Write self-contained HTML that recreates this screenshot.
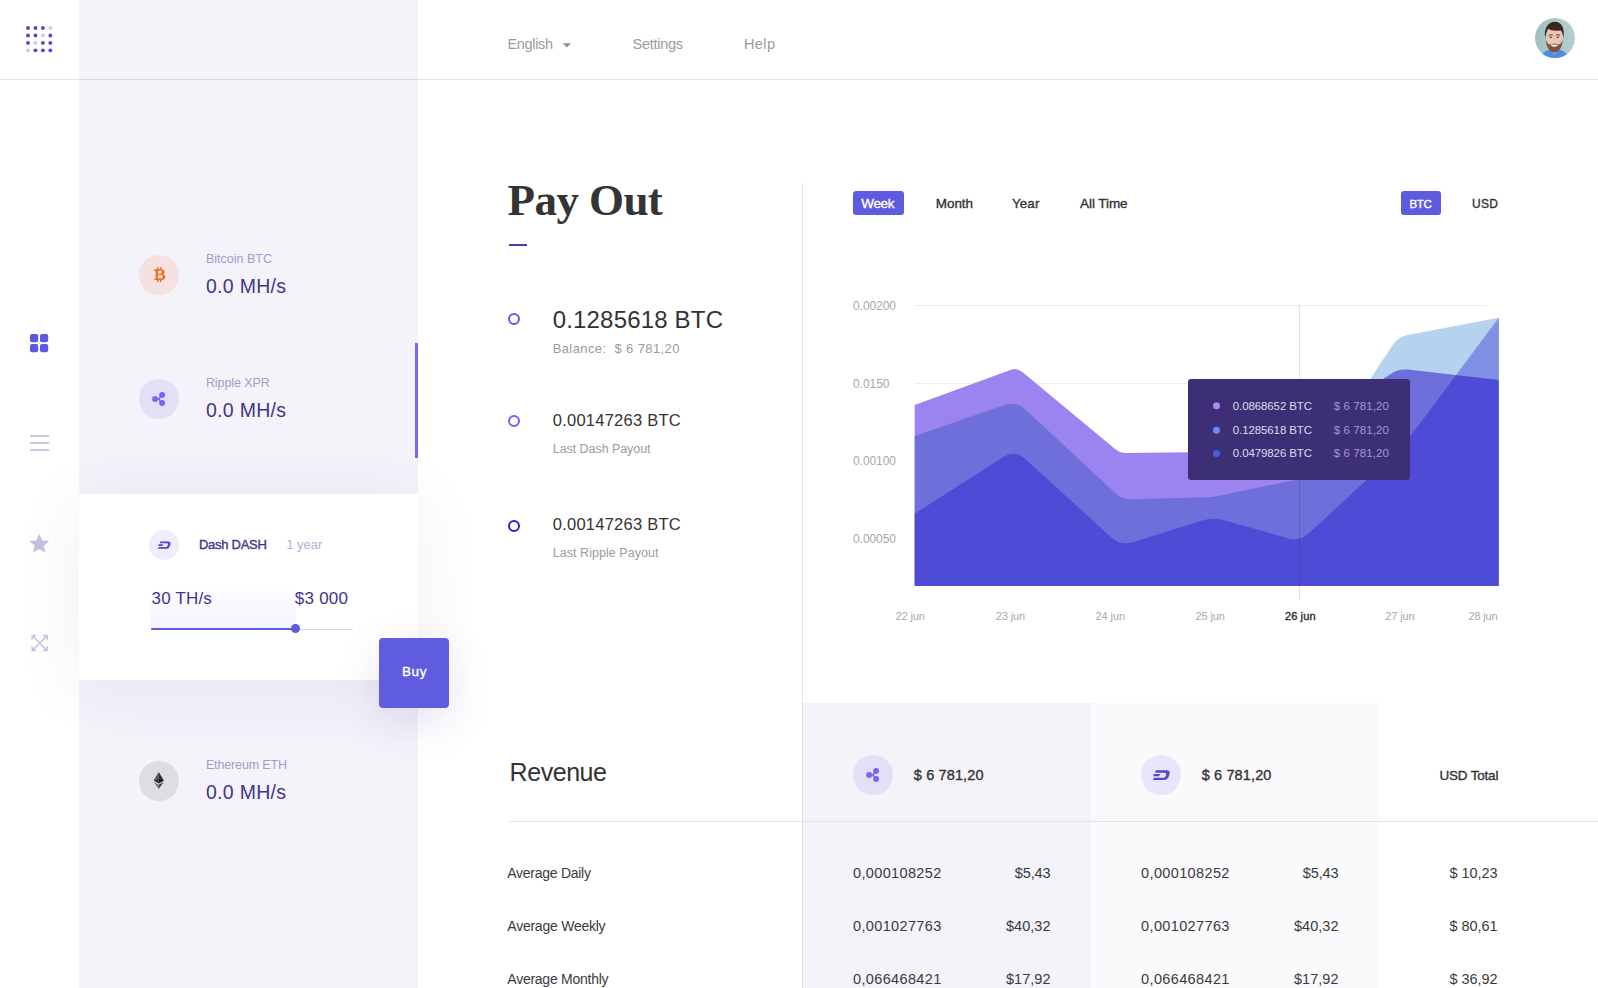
<!DOCTYPE html>
<html lang="en"><head><meta charset="utf-8"><title>Pay Out</title>
<style>
*{box-sizing:border-box;margin:0;padding:0}
html,body{width:1598px;height:988px;overflow:hidden;background:#fff}
body{position:relative;font-family:'Liberation Sans',sans-serif;color:#333}
.a{position:absolute}
.g{position:absolute;left:0;top:0;width:0;height:0}
.t{position:absolute;white-space:pre;line-height:1}
.sidebar{left:79px;top:0;width:339px;height:988px;background:#f4f3fa}
.hline{left:0;top:79px;width:1598px;height:1px;background:rgba(70,60,130,.15)}
.card{left:79px;top:494px;width:339px;height:186px;background:#fff;box-shadow:0 8px 70px rgba(60,50,140,.075)}
.buy{left:379px;top:638px;width:70px;height:70px;background:#5f5cdf;border-radius:4px;box-shadow:0 14px 44px rgba(60,50,160,.13)}
.ic{border-radius:50%}
.pill{background:#5f5bdf;border-radius:3px}
.ring{width:12px;height:12px;border-radius:50%;border:2px solid #5c5ce8;left:508px}
.col1{left:803px;top:703px;width:288px;height:285px;background:#f4f3fa}
.col2{left:1091px;top:703px;width:288px;height:285px;background:#fafafd}
</style></head>
<body>
<aside class="g">
<div class="a sidebar"></div>
<div class="a ic" style="left:139px;top:255px;width:40px;height:40px;background:#f5e1df"></div>
<svg class="a" style="left:139px;top:255px" width="40" height="40" viewBox="0 0 40 40"><g fill="#f26522" transform="translate(0,1) scale(1,0.92)">
<path d="M15.2,14.4 h6.4 c2.6,0 4.0,1.2 4.0,3.0 c0,1.3 -0.7,2.1 -1.8,2.5 c1.5,0.4 2.4,1.4 2.4,2.9 c0,2.1 -1.6,3.3 -4.4,3.3 h-6.6 v-1.5 h1.5 v-8.7 h-1.5z M18.9,16.0 v3.2 h2.3 c1.2,0 1.9,-0.6 1.9,-1.6 c0,-1.0 -0.7,-1.6 -1.9,-1.6z M18.9,20.7 v3.8 h2.6 c1.4,0 2.2,-0.7 2.2,-1.9 c0,-1.2 -0.8,-1.9 -2.2,-1.9z"/>
<rect x="18.1" y="12.1" width="1.4" height="2.6"/><rect x="21.0" y="12.1" width="1.4" height="2.6"/><rect x="18.1" y="25.8" width="1.4" height="2.6"/><rect x="21.0" y="25.8" width="1.4" height="2.6"/></g></svg>
<div class="a ic" style="left:139px;top:379px;width:40px;height:40px;background:#e3dff7"></div>
<svg class="a" style="left:139px;top:379px" width="40" height="40" viewBox="0 0 40 40"><g fill="#7b64ee" stroke="#7b64ee"><path d="M16.1,20 L19.8,20 L23.1,16.1 M19.8,20 L23.1,23.9" fill="none" stroke-width="1.6"/><circle cx="23.1" cy="16" r="2.95" stroke="none"/><circle cx="16.1" cy="20.05" r="2.95" stroke="none"/><circle cx="23.1" cy="24" r="2.95" stroke="none"/></g></svg>
<div class="a" style="left:415px;top:343px;width:3px;height:115px;background:#7b64ee"></div>
<div class="a card"></div>
<div class="a" style="left:151px;top:584px;width:145px;height:44px;background:linear-gradient(180deg,rgba(240,242,255,0) 0%,rgba(236,238,255,.7) 100%)"></div>
<div class="a ic" style="left:149px;top:530px;width:30px;height:30px;background:#efecfc"></div>
<svg class="a" style="left:149px;top:530px" width="30" height="30" viewBox="0 0 30 30"><g fill="#5248d8"><path d="M11.2,11.5 h7.9 c2.0,0 2.9,1.1 2.3,2.9 l-0.6,1.8 c-0.6,1.7 -1.8,2.6 -3.6,2.6 h-8.2 l0.6,-1.8 h7.2 c0.9,0 1.4,-0.4 1.7,-1.2 l0.3,-1.0 c0.3,-0.9 -0.1,-1.5 -1.0,-1.5 h-7.2z"/><path d="M9.6,14.3 h4.6 l-0.55,1.7 h-4.6z"/></g></svg>
<div class="a" style="left:151px;top:628.5px;width:202px;height:1px;background:#d9d6ef"></div>
<div class="a" style="left:151px;top:627.6px;width:145px;height:2.4px;background:#5d5adb;border-radius:1px"></div>
<div class="a ic" style="left:291px;top:624.2px;width:9px;height:9px;background:#5d5adb"></div>
<div class="a buy"></div>
<div class="a ic" style="left:139px;top:761px;width:40px;height:40px;background:#dedde4"></div>
<svg class="a" style="left:139px;top:761px" width="40" height="40" viewBox="0 0 40 40">
<path d="M19.7,11.1 L14.6,19.6 L19.7,17.3z" fill="#555"/><path d="M19.7,11.1 L24.9,19.6 L19.7,17.3z" fill="#2a2a2a"/>
<path d="M19.7,17.3 L14.6,19.6 L19.7,22.6z" fill="#333"/><path d="M19.7,17.3 L24.9,19.6 L19.7,22.6z" fill="#111"/>
<path d="M14.6,20.8 L19.7,23.8 L19.7,27.9z" fill="#777"/><path d="M24.9,20.8 L19.7,23.8 L19.7,27.9z" fill="#444"/></svg>
<span class="t" style="left:205.9px;top:253px;font-size:12.5px;letter-spacing:0.01px;color:#a39acd;">Bitcoin BTC</span>
<span class="t" style="left:206.0px;top:277px;font-size:19.5px;letter-spacing:0.28px;color:#42358a;">0.0 MH/s</span>
<span class="t" style="left:205.9px;top:377px;font-size:12.5px;letter-spacing:-0.09px;color:#a39acd;">Ripple XPR</span>
<span class="t" style="left:206.0px;top:401px;font-size:19.5px;letter-spacing:0.28px;color:#42358a;">0.0 MH/s</span>
<span class="t" style="left:199.0px;top:538px;font-size:13px;letter-spacing:-0.28px;color:#42358a;-webkit-text-stroke:0.35px #42358a;">Dash DASH</span>
<span class="t" style="left:286.3px;top:538px;font-size:13px;letter-spacing:-0.01px;color:#b5aed6;">1 year</span>
<span class="t" style="left:151.6px;top:590px;font-size:17px;letter-spacing:0.16px;color:#42358a;">30 TH/s</span>
<span class="t" style="left:294.8px;top:590px;font-size:17px;letter-spacing:0.24px;color:#42358a;">$3 000</span>
<span class="t" style="left:402.0px;top:665px;font-size:13.5px;letter-spacing:0.62px;color:#ffffff;-webkit-text-stroke:0.35px #ffffff;">Buy</span>
<span class="t" style="left:205.9px;top:759px;font-size:12.5px;letter-spacing:-0.14px;color:#a39acd;">Ethereum ETH</span>
<span class="t" style="left:206.0px;top:783px;font-size:19.5px;letter-spacing:0.28px;color:#42358a;">0.0 MH/s</span>
</aside>
<header class="g">
<div class="a hline"></div>
<svg class="a" style="left:1535px;top:18px" width="40" height="40" viewBox="0 0 40 40"><defs><clipPath id="av"><circle cx="20" cy="20" r="20"/></clipPath>
<linearGradient id="avb" x1="0" y1="0" x2="1" y2="0"><stop offset="0" stop-color="#a3c1c2"/><stop offset="1" stop-color="#b4cfcd"/></linearGradient></defs>
<g clip-path="url(#av)"><rect width="40" height="40" fill="url(#avb)"/>
<path d="M5,40 C7,34.5 11,32.6 15,31.6 L19.3,36 L23.6,31.6 C28,32.6 32,34.5 34,40z" fill="#4d8fe3"/>
<path d="M15,30 L15,32 L19.3,36.6 L23.6,32 L23.6,30z" fill="#d8a68e"/>
<ellipse cx="19.3" cy="20.6" rx="8.5" ry="11.3" fill="#ecc6b2"/>
<path d="M10.9,21.5 C11.2,29.5 14.8,34.6 19.3,34.6 C23.8,34.6 27.4,29.5 27.7,21.5 C26.6,25.6 24.4,26.8 23.2,26.4 C21.5,25.4 17.1,25.4 15.4,26.4 C14.2,26.8 12,25.6 10.9,21.5z" fill="#7a5646"/>
<path d="M15.6,27.0 C17,29.2 21.6,29.2 23.0,27.0 C21.5,26.6 17.1,26.6 15.6,27.0z" fill="#fff"/>
<ellipse cx="15.8" cy="19.3" rx="1.3" ry="0.8" fill="#4a3a36"/><ellipse cx="22.8" cy="19.3" rx="1.3" ry="0.8" fill="#4a3a36"/>
<path d="M13.6,17.4 q2.2,-1.2 4.2,-0.2 M20.8,17.2 q2,-1 4.2,0.2" stroke="#4a3328" stroke-width="0.9" fill="none"/>
<path d="M10.2,20.5 C8.6,10.5 13,3.8 19.8,3.8 C26.6,3.8 30,10 28.4,20.5 C28,16.5 27.2,13.6 25.6,12.2 C21,13.4 15.4,12.4 13.2,10.8 C11.6,13.2 10.8,16.5 10.2,20.5z" fill="#3b271e"/>
</g></svg>
<svg class="a" style="left:562px;top:42px" width="10" height="7" viewBox="0 0 10 7"><path d="M0.8,1.2 h8.2 l-4.1,4.4z" fill="#8f8f8f"/></svg>
<span class="t" style="left:507.5px;top:37px;font-size:14.5px;letter-spacing:-0.34px;color:#9b9b9b;">English</span>
<span class="t" style="left:632.5px;top:37px;font-size:14.5px;letter-spacing:-0.27px;color:#9b9b9b;">Settings</span>
<span class="t" style="left:744.0px;top:37px;font-size:14.5px;letter-spacing:0.39px;color:#9b9b9b;">Help</span>
</header>
<nav class="g">
<svg class="a" style="left:0;top:0" width="79" height="79" viewBox="0 0 79 79"><circle cx="28" cy="28" r="1.95" fill="#4d49d8"/><circle cx="35.45" cy="28" r="1.95" fill="#4d49d8"/><circle cx="42.9" cy="28" r="1.95" fill="#4d49d8"/><circle cx="50.35" cy="28" r="1.95" fill="#cbc9f4"/><circle cx="28" cy="35.45" r="1.95" fill="#4d49d8"/><circle cx="35.45" cy="35.45" r="1.95" fill="#4d49d8"/><circle cx="42.9" cy="35.45" r="1.95" fill="#cbc9f4"/><circle cx="50.35" cy="35.45" r="1.95" fill="#4d49d8"/><circle cx="28" cy="42.9" r="1.95" fill="#4d49d8"/><circle cx="35.45" cy="42.9" r="1.95" fill="#cbc9f4"/><circle cx="42.9" cy="42.9" r="1.95" fill="#4d49d8"/><circle cx="50.35" cy="42.9" r="1.95" fill="#4d49d8"/><circle cx="28" cy="50.35" r="1.95" fill="#cbc9f4"/><circle cx="35.45" cy="50.35" r="1.95" fill="#4d49d8"/><circle cx="42.9" cy="50.35" r="1.95" fill="#4d49d8"/><circle cx="50.35" cy="50.35" r="1.95" fill="#4d49d8"/></svg>
<svg class="a" style="left:20px;top:320px" width="40" height="350" viewBox="20 320 40 350">
<g fill="#5b59de"><rect x="30" y="334" width="8.2" height="8.2" rx="2"/><rect x="40" y="334" width="8.2" height="8.2" rx="2"/><rect x="30" y="344" width="8.2" height="8.2" rx="2"/><rect x="40" y="344" width="8.2" height="8.2" rx="2"/></g>
<g fill="#c9c4e2"><rect x="30" y="435" width="19.2" height="1.8"/><rect x="30" y="442.1" width="19.2" height="1.8"/><rect x="30" y="449.1" width="19.2" height="1.8"/></g>
<path fill="#c4bedd" d="M39.2,533.8 L42.1,540.4 L49.1,541.0 L43.8,545.7 L45.4,552.6 L39.2,549.0 L33.0,552.6 L34.6,545.7 L29.3,541.0 L36.3,540.4 Z"/>
<g fill="none" stroke="#c9c4e2" stroke-width="1.6"><path d="M32.6,636 L46.8,650.2 M46.8,636 L32.6,650.2"/></g>
<g fill="#c9c4e2"><path d="M31.4,634.8 h5.6 l-5.6,5.6z M47.9,634.8 v5.6 l-5.6,-5.6z M31.4,651.2 v-5.6 l5.6,5.6z M47.9,651.2 h-5.6 l5.6,-5.6z"/></g>
</svg>
</nav>
<main class="g">
<section class="g">
<div class="a" style="left:509px;top:244px;width:18px;height:2px;background:#4a3e9e"></div>
<div class="a" style="left:802px;top:183px;width:1px;height:805px;background:#e3e3e8"></div>
<div class="a ring" style="top:313px;border-color:#5c5ce8"></div>
<div class="a ring" style="top:415px;border-color:#7b5cf0"></div>
<div class="a ring" style="top:520px;border-color:#2424c8"></div>
<span class="t" style="left:507.6px;top:178px;font-size:45px;letter-spacing:-0.59px;color:#343434;font-weight:700;font-family:'Liberation Serif',serif;">Pay Out</span>
<span class="t" style="left:552.7px;top:308px;font-size:24px;letter-spacing:0.18px;color:#333333;">0.1285618 BTC</span>
<span class="t" style="left:552.7px;top:342px;font-size:13px;letter-spacing:0.39px;color:#9b9b9b;">Balance:  $ 6 781,20</span>
<span class="t" style="left:552.8px;top:412px;font-size:16.5px;letter-spacing:0.24px;color:#333333;">0.00147263 BTC</span>
<span class="t" style="left:552.8px;top:443px;font-size:12.5px;letter-spacing:-0.06px;color:#9b9b9b;">Last Dash Payout</span>
<span class="t" style="left:552.8px;top:516px;font-size:16.5px;letter-spacing:0.24px;color:#333333;">0.00147263 BTC</span>
<span class="t" style="left:552.8px;top:547px;font-size:12.5px;letter-spacing:0.04px;color:#9b9b9b;">Last Ripple Payout</span>
</section>
<section class="g">
<div class="a pill" style="left:853px;top:191px;width:51px;height:24px"></div>
<div class="a pill" style="left:1401px;top:191px;width:40px;height:24px"></div>
<svg class="a" style="left:840px;top:290px" width="700" height="320" viewBox="840 290 700 320">
<defs><linearGradient id="gt" gradientUnits="userSpaceOnUse" x1="1305" y1="0" x2="1355" y2="0"><stop offset="0" stop-color="#9b84ef"/><stop offset="1" stop-color="#b5d3ee"/></linearGradient>
<clipPath id="cm"><path d="M914.7,586.0 L914.7,436.0 L1004.7,404.9 Q1016.0,401.0 1024.8,409.1 L1115.9,493.4 Q1122.5,499.5 1131.5,499.3 L1207.0,497.2 Q1213.0,497.0 1218.9,495.8 L1294.1,480.2 Q1300.0,479.0 1303.1,473.9 L1339.9,412.6 Q1345.0,404.0 1353.4,398.5 L1391.4,373.5 Q1398.9,368.6 1407.8,369.6 L1498.8,380.0 L1498.8,586.0 Z"/></clipPath></defs>
<g stroke="#ededf0" stroke-width="1"><path d="M915,305.5 H1487 M915,383.5 H1487 M915,461.5 H1487 M915,538.5 H1487"/></g>
<path d="M914.7,586.0 L914.7,405.0 L1010.4,369.9 Q1017.0,367.5 1022.4,372.0 L1115.4,449.2 Q1120.0,453.0 1126.0,452.9 L1209.0,452.0 Q1213.0,452.0 1216.9,452.7 L1306.1,469.3 Q1310.0,470.0 1312.2,466.7 L1393.0,344.6 Q1398.2,336.7 1407.5,334.9 L1498.8,317.7 L1498.8,586.0 Z" fill="url(#gt)"/>
<path d="M914.7,586.0 L914.7,436.0 L1004.7,404.9 Q1016.0,401.0 1024.8,409.1 L1115.9,493.4 Q1122.5,499.5 1131.5,499.3 L1207.0,497.2 Q1213.0,497.0 1218.9,495.8 L1294.1,480.2 Q1300.0,479.0 1303.1,473.9 L1339.9,412.6 Q1345.0,404.0 1353.4,398.5 L1391.4,373.5 Q1398.9,368.6 1407.8,369.6 L1498.8,380.0 L1498.8,586.0 Z" fill="#6f6fdc"/>
<path d="M914.7,586.0 L914.7,513.5 L1004.0,456.5 Q1015.0,449.5 1024.6,458.3 L1111.4,537.2 Q1121.0,546.0 1133.4,542.1 L1203.5,520.0 Q1213.0,517.0 1222.6,519.7 L1288.4,538.2 Q1300.0,541.5 1308.8,533.3 L1381.0,466.4 Q1403.0,446.0 1420.9,422.0 L1498.8,317.7 L1498.8,586.0 Z" fill="#8090e4"/>
<path d="M914.7,586.0 L914.7,513.5 L1004.0,456.5 Q1015.0,449.5 1024.6,458.3 L1111.4,537.2 Q1121.0,546.0 1133.4,542.1 L1203.5,520.0 Q1213.0,517.0 1222.6,519.7 L1288.4,538.2 Q1300.0,541.5 1308.8,533.3 L1381.0,466.4 Q1403.0,446.0 1420.9,422.0 L1498.8,317.7 L1498.8,586.0 Z" fill="#4e4bd6" clip-path="url(#cm)"/>
<path d="M1299.5,305 V600" stroke="#000" stroke-opacity=".11" stroke-width="1"/>
<rect x="1188" y="379" width="222" height="101" rx="3" fill="#3d2f75"/>
<circle cx="1216.5" cy="405.7" r="3.5" fill="#a98df5"/><circle cx="1216.5" cy="430.2" r="3.5" fill="#6b8af7"/><circle cx="1216.5" cy="453.6" r="3.5" fill="#4560dc"/>
</svg>
<span class="t" style="left:861.2px;top:197px;font-size:13.5px;letter-spacing:-0.29px;color:#ffffff;-webkit-text-stroke:0.35px #ffffff;">Week</span>
<span class="t" style="left:935.8px;top:197px;font-size:13.5px;letter-spacing:-0.08px;color:#333333;-webkit-text-stroke:0.35px #333333;">Month</span>
<span class="t" style="left:1012.0px;top:197px;font-size:13.5px;letter-spacing:0.04px;color:#333333;-webkit-text-stroke:0.35px #333333;">Year</span>
<span class="t" style="left:1080.0px;top:197px;font-size:13.5px;letter-spacing:-0.06px;color:#333333;-webkit-text-stroke:0.35px #333333;">All Time</span>
<span class="t" style="left:1409.4px;top:199px;font-size:11.5px;letter-spacing:-0.35px;color:#ffffff;-webkit-text-stroke:0.35px #ffffff;">BTC</span>
<span class="t" style="left:1472.0px;top:198px;font-size:12px;letter-spacing:0.28px;color:#333333;-webkit-text-stroke:0.35px #333333;">USD</span>
<span class="t" style="left:853.0px;top:300px;font-size:12px;letter-spacing:-0.06px;color:#a8a8a8;">0.00200</span>
<span class="t" style="left:853.0px;top:378px;font-size:12px;letter-spacing:-0.04px;color:#a8a8a8;">0.0150</span>
<span class="t" style="left:853.0px;top:455px;font-size:12px;letter-spacing:-0.06px;color:#a8a8a8;">0.00100</span>
<span class="t" style="left:853.0px;top:533px;font-size:12px;letter-spacing:-0.06px;color:#a8a8a8;">0.00050</span>
<span class="t" style="left:895.8px;top:611px;font-size:11px;letter-spacing:-0.19px;color:#a8a8a8;">22 jun</span>
<span class="t" style="left:995.8px;top:611px;font-size:11px;letter-spacing:-0.15px;color:#a8a8a8;">23 jun</span>
<span class="t" style="left:1095.6px;top:611px;font-size:11px;letter-spacing:-0.11px;color:#a8a8a8;">24 jun</span>
<span class="t" style="left:1195.5px;top:611px;font-size:11px;letter-spacing:-0.13px;color:#a8a8a8;">25 jun</span>
<span class="t" style="left:1285.0px;top:611px;font-size:11px;letter-spacing:0.11px;color:#2d2d2d;-webkit-text-stroke:0.35px #2d2d2d;">26 jun</span>
<span class="t" style="left:1385.3px;top:611px;font-size:11px;letter-spacing:-0.13px;color:#a8a8a8;">27 jun</span>
<span class="t" style="left:1468.4px;top:611px;font-size:11px;letter-spacing:-0.13px;color:#a8a8a8;">28 jun</span>
<span class="t" style="left:1232.8px;top:401px;font-size:11.5px;letter-spacing:-0.11px;color:#dedaf0;">0.0868652 BTC</span>
<span class="t" style="left:1333.7px;top:401px;font-size:11.5px;letter-spacing:0.10px;color:#a399c8;">$ 6 781,20</span>
<span class="t" style="left:1232.8px;top:425px;font-size:11.5px;letter-spacing:-0.11px;color:#dedaf0;">0.1285618 BTC</span>
<span class="t" style="left:1333.7px;top:425px;font-size:11.5px;letter-spacing:0.10px;color:#a399c8;">$ 6 781,20</span>
<span class="t" style="left:1232.8px;top:448px;font-size:11.5px;letter-spacing:-0.11px;color:#dedaf0;">0.0479826 BTC</span>
<span class="t" style="left:1333.7px;top:448px;font-size:11.5px;letter-spacing:0.10px;color:#a399c8;">$ 6 781,20</span>
</section>
<section class="g">
<div class="a col1"></div><div class="a col2"></div>
<div class="a" style="left:802px;top:703px;width:1px;height:285px;background:#dedde4"></div>
<div class="a" style="left:509px;top:821px;width:1089px;height:1px;background:#e4e3ea"></div>
<div class="a ic" style="left:853px;top:755px;width:40px;height:40px;background:#e3dff7"></div>
<svg class="a" style="left:853px;top:755px" width="40" height="40" viewBox="0 0 40 40"><g fill="#7b64ee" stroke="#7b64ee"><path d="M16.1,20 L19.8,20 L23.1,16.1 M19.8,20 L23.1,23.9" fill="none" stroke-width="1.6"/><circle cx="23.1" cy="16" r="2.95" stroke="none"/><circle cx="16.1" cy="20.05" r="2.95" stroke="none"/><circle cx="23.1" cy="24" r="2.95" stroke="none"/></g></svg>
<div class="a ic" style="left:1141px;top:755px;width:40px;height:40px;background:#e9e5fb"></div>
<svg class="a" style="left:1141px;top:755px" width="40" height="40" viewBox="0 0 30 30"><g fill="#5248d8"><path d="M11.2,11.5 h7.9 c2.0,0 2.9,1.1 2.3,2.9 l-0.6,1.8 c-0.6,1.7 -1.8,2.6 -3.6,2.6 h-8.2 l0.6,-1.8 h7.2 c0.9,0 1.4,-0.4 1.7,-1.2 l0.3,-1.0 c0.3,-0.9 -0.1,-1.5 -1.0,-1.5 h-7.2z"/><path d="M9.6,14.3 h4.6 l-0.55,1.7 h-4.6z"/></g></svg>
<span class="t" style="left:509.6px;top:760px;font-size:25px;letter-spacing:-0.45px;color:#333333;">Revenue</span>
<span class="t" style="left:913.8px;top:768px;font-size:14.5px;letter-spacing:0.13px;color:#333333;-webkit-text-stroke:0.35px #333333;">$ 6 781,20</span>
<span class="t" style="left:1201.7px;top:768px;font-size:14.5px;letter-spacing:0.13px;color:#333333;-webkit-text-stroke:0.35px #333333;">$ 6 781,20</span>
<span class="t" style="left:1439.5px;top:769px;font-size:13.5px;letter-spacing:-0.20px;color:#333333;-webkit-text-stroke:0.35px #333333;">USD Total</span>
<span class="t" style="left:507.3px;top:866px;font-size:14px;letter-spacing:-0.27px;color:#3a3a3a;">Average Daily</span>
<span class="t" style="left:853.0px;top:866px;font-size:14.5px;letter-spacing:0.36px;color:#3a3a3a;">0,000108252</span>
<span class="t" style="left:1141.1px;top:866px;font-size:14.5px;letter-spacing:0.36px;color:#3a3a3a;">0,000108252</span>
<span class="t" style="left:1014.8px;top:866px;font-size:14.5px;letter-spacing:-0.15px;color:#3a3a3a;">$5,43</span>
<span class="t" style="left:1302.8px;top:866px;font-size:14.5px;letter-spacing:-0.15px;color:#3a3a3a;">$5,43</span>
<span class="t" style="left:1449.6px;top:866px;font-size:14.5px;letter-spacing:-0.05px;color:#3a3a3a;">$ 10,23</span>
<span class="t" style="left:507.3px;top:919px;font-size:14px;letter-spacing:-0.24px;color:#3a3a3a;">Average Weekly</span>
<span class="t" style="left:853.0px;top:919px;font-size:14.5px;letter-spacing:0.36px;color:#3a3a3a;">0,001027763</span>
<span class="t" style="left:1141.1px;top:919px;font-size:14.5px;letter-spacing:0.36px;color:#3a3a3a;">0,001027763</span>
<span class="t" style="left:1006.0px;top:919px;font-size:14.5px;letter-spacing:0.03px;color:#3a3a3a;">$40,32</span>
<span class="t" style="left:1294.0px;top:919px;font-size:14.5px;letter-spacing:0.03px;color:#3a3a3a;">$40,32</span>
<span class="t" style="left:1449.6px;top:919px;font-size:14.5px;letter-spacing:-0.05px;color:#3a3a3a;">$ 80,61</span>
<span class="t" style="left:507.3px;top:972px;font-size:14px;letter-spacing:-0.25px;color:#3a3a3a;">Average Monthly</span>
<span class="t" style="left:853.0px;top:972px;font-size:14.5px;letter-spacing:0.36px;color:#3a3a3a;">0,066468421</span>
<span class="t" style="left:1141.1px;top:972px;font-size:14.5px;letter-spacing:0.36px;color:#3a3a3a;">0,066468421</span>
<span class="t" style="left:1006.0px;top:972px;font-size:14.5px;letter-spacing:0.03px;color:#3a3a3a;">$17,92</span>
<span class="t" style="left:1294.0px;top:972px;font-size:14.5px;letter-spacing:0.03px;color:#3a3a3a;">$17,92</span>
<span class="t" style="left:1449.6px;top:972px;font-size:14.5px;letter-spacing:-0.05px;color:#3a3a3a;">$ 36,92</span>
</section>
</main>
</body></html>
